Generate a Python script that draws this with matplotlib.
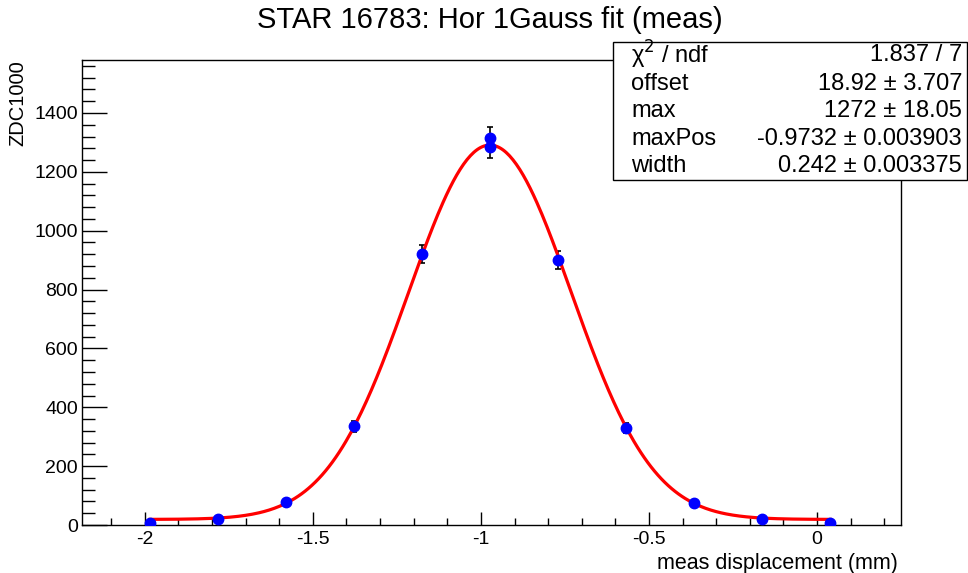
import numpy as np
import matplotlib
matplotlib.use("Agg")
import matplotlib.pyplot as plt
from matplotlib.ticker import MultipleLocator, FuncFormatter
from matplotlib.patches import Rectangle

plt.rcParams['font.family'] = ['Liberation Sans', 'DejaVu Sans']
plt.rcParams['axes.unicode_minus'] = False

# Data
x_vals = [-1.985, -1.783, -1.580, -1.378, -1.175, -0.973, -0.973, -0.770, -0.568, -0.365, -0.163, 0.039]
y_vals = [7, 20, 78, 336, 921, 1315, 1284, 900, 330, 75, 22, 8]
y_errs = list(np.sqrt(y_vals))

# Fit parameters
offset = 18.92
amp = 1272
mean = -0.9732
width = 0.242

stat_labels = ["χ$^2$ / ndf", "offset", "max", "maxPos", "width"]
stat_values = ["1.837 / 7", "18.92 ± 3.707", "1272 ± 18.05", "-0.9732 ± 0.003903", "0.242 ± 0.003375"]

title = "STAR 16783: Hor 1Gauss fit (meas)"
xlabel = "meas displacement (mm)"
ylabel = "ZDC1000"

W, H = 968, 573
fig = plt.figure(figsize=(W / 100, H / 100), dpi=100)
ax = fig.add_axes([82 / W, 1 - 525 / H, (901 - 82) / W, (525 - 60) / H])

xf = np.linspace(min(x_vals), max(x_vals), 400)
yf = offset + amp * np.exp(-(xf - mean) ** 2 / (2 * width ** 2))
ax.errorbar(x_vals, y_vals, yerr=y_errs, fmt='none', ecolor='black', elinewidth=1.2,
            capsize=2.5, capthick=1.2, zorder=2)
ax.plot(xf, yf, color='red', lw=2.3, zorder=3)
ax.plot(x_vals, y_vals, 'o', color='blue', ms=7.5, mec='blue', zorder=4)

ax.set_xlim(-2.187, 0.25)
ax.set_ylim(0, 1580)
ax.xaxis.set_major_locator(MultipleLocator(0.5))
ax.xaxis.set_minor_locator(MultipleLocator(0.1))
ax.yaxis.set_major_locator(MultipleLocator(200))
ax.yaxis.set_minor_locator(MultipleLocator(40))
ax.xaxis.set_major_formatter(FuncFormatter(lambda v, p: "0" if abs(v) < 1e-9 else "%g" % round(v, 3)))
ax.tick_params(which='both', direction='in', top=False, right=False, labelsize=14, width=1)
ax.tick_params(axis='x', which='major', length=9.5)
ax.tick_params(axis='x', which='minor', length=5)
ax.tick_params(axis='y', which='major', length=18)
ax.tick_params(axis='y', which='minor', length=9.4)
ax.tick_params(axis='x', pad=4)
ax.tick_params(axis='y', pad=3)
for s in ax.spines.values():
    s.set_linewidth(1)

fig.text(490 / W, 1 - 20 / H, title, ha='center', va='center', fontsize=21)
fig.text(898 / W, 1 - 563 / H, xlabel, ha='right', va='center', fontsize=15.5)
fig.text(18 / W, 1 - 60 / H, ylabel, ha='center', va='top', rotation=90, fontsize=14.5)

# Stats box
box = Rectangle((613 / W, 1 - 180 / H), (967 - 613) / W, (180 - 42) / H,
                transform=fig.transFigure, facecolor='white', edgecolor='black', lw=1, zorder=10)
fig.patches.append(box)
row_y = [55, 84, 111, 139, 166]
for lab, val, ry in zip(stat_labels, stat_values, row_y):
    fig.text(631 / W, 1 - ry / H, lab, ha='left', va='center', fontsize=17, zorder=11)
    fig.text(962 / W, 1 - ry / H, val, ha='right', va='center', fontsize=17, zorder=11)

fig.savefig("out.png", dpi=100)
